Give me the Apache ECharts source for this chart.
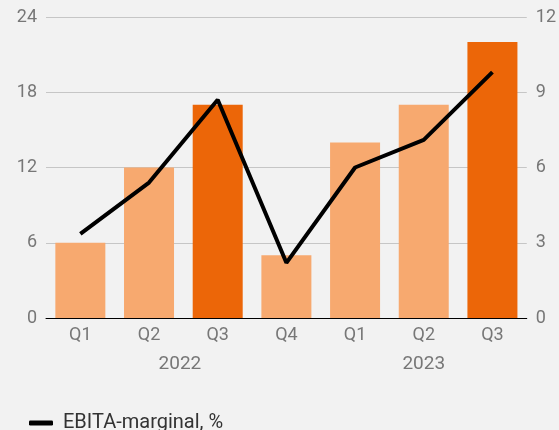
<!DOCTYPE html>
<html>
<head>
<meta charset="utf-8">
<script src="https://cdn.jsdelivr.net/npm/echarts@6/dist/echarts.min.js"></script>
<style>
html, body { margin: 0; padding: 0; background: #f2f2f2; }
#chart { width: 559px; height: 430px; }
</style>
</head>
<body>
<div id="chart"></div>
<script>
// kvartal, år, rörelseresultat (vänster axel) och EBITA-marginal (höger axel)
var quarters = ['Q1', 'Q2', 'Q3', 'Q4', 'Q1', 'Q2', 'Q3'];
var years = ['2022', '2023'];
var yearPos = [1.95, 5.5];
var barValues = [6, 12, 17, 5, 14, 17, 22];
var highlight = [false, false, true, false, false, false, true];
var marginValues = [3.35, 5.4, 8.7, 2.2, 6.0, 7.1, 9.8];
var leftTicks = { min: 0, max: 24, interval: 6 };
var rightTicks = { min: 0, max: 12, interval: 3 };

var chart = echarts.init(document.getElementById('chart'));

var labelFont = { color: '#777', fontSize: 18, fontFamily: 'Roboto' };

var option = {
	backgroundColor: '#f2f2f2',
	animation: false,
	grid: { left: 46, right: 31, top: 17, bottom: 112 },
	legend: {
		data: ['EBITA-marginal, %'],
		left: 24,
		top: 408,
		icon: 'roundRect',
		itemWidth: 24,
		itemHeight: 5,
		itemGap: 10,
		textStyle: { color: '#333', fontSize: 20, fontFamily: 'Roboto', padding: [0, 0, 0, 5] }
	},
	xAxis: [
		{
			type: 'category',
			data: quarters,
			axisLine: { lineStyle: { color: '#000', width: 1 } },
			axisTick: { show: false },
			axisLabel: Object.assign({ margin: 8 }, labelFont)
		},
		{
			type: 'value',
			position: 'bottom',
			offset: 30,
			min: 0,
			max: quarters.length,
			axisLine: { show: false },
			axisTick: { show: false },
			splitLine: { show: false },
			axisLabel: Object.assign({}, labelFont, {
				margin: 7,
				fontSize: 19,
				customValues: yearPos,
				formatter: function (v) {
					var i = yearPos.indexOf(v);
					return i >= 0 ? years[i] : '';
				}
			})
		}
	],
	yAxis: [
		{
			type: 'value',
			min: leftTicks.min,
			max: leftTicks.max,
			interval: leftTicks.interval,
			axisLine: { show: false },
			axisTick: { show: false },
			splitLine: { lineStyle: { color: '#c6c6c6', width: 1 } },
			axisLabel: Object.assign({ margin: 9 }, labelFont)
		},
		{
			type: 'value',
			min: rightTicks.min,
			max: rightTicks.max,
			interval: rightTicks.interval,
			axisLine: { show: false },
			axisTick: { show: false },
			splitLine: { show: false },
			axisLabel: Object.assign({ margin: 9 }, labelFont)
		}
	],
	series: [
		{
			name: 'Resultat',
			type: 'bar',
			barWidth: 50,
			data: barValues.map(function (v, i) {
				return { value: v, itemStyle: { color: highlight[i] ? '#ec6608' : '#f7a96f' } };
			})
		},
		{
			name: 'EBITA-marginal, %',
			type: 'line',
			yAxisIndex: 1,
			data: marginValues,
			showSymbol: false,
			symbol: 'none',
			itemStyle: { color: '#000' },
			lineStyle: { color: '#000', width: 4 }
		}
	]
};

chart.setOption(option);
</script>
</body>
</html>
